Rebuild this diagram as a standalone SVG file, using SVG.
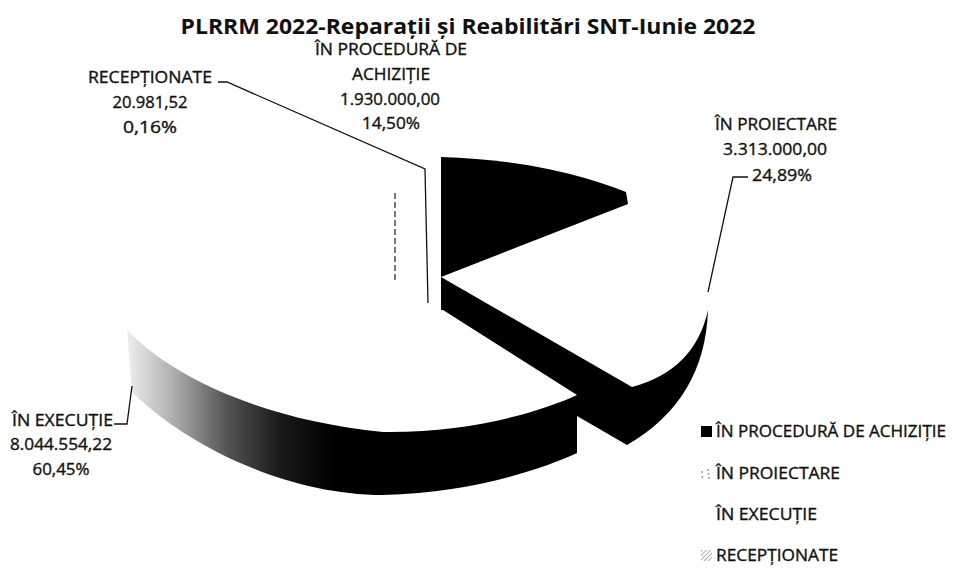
<svg xmlns="http://www.w3.org/2000/svg" width="958" height="574" viewBox="0 0 958 574">
  <style>
    .t { font-family: "Open Sans", "Noto Sans", "Liberation Sans", sans-serif; font-size: 16px; fill: #111; stroke: #111; stroke-width: 0.35; }
    .c { text-anchor: middle; }
    .title { font-family: "Open Sans", "Noto Sans", "Liberation Sans", sans-serif; font-size: 22px; font-weight: bold; fill: #111; text-anchor: middle; }
    .lead { fill: none; stroke: #111; stroke-width: 1.3; }
    .solid { fill: #000; }
  </style>
  <defs>
    <linearGradient id="execGrad" gradientUnits="userSpaceOnUse" x1="127" y1="0" x2="577" y2="0">
      <stop offset="0" stop-color="#eeeeee"/>
      <stop offset="0.1" stop-color="#b0b0b0"/>
      <stop offset="0.22" stop-color="#555"/>
      <stop offset="0.34" stop-color="#1a1a1a"/>
      <stop offset="0.46" stop-color="#000"/>
      <stop offset="1" stop-color="#000"/>
    </linearGradient>
    <pattern id="hatch" patternUnits="userSpaceOnUse" width="3" height="3" patternTransform="rotate(45)">
      <line x1="0" y1="0" x2="0" y2="3" stroke="#777" stroke-width="1.2"/>
    </pattern>
  </defs>
  <rect width="958" height="574" fill="#fff"/>

  <text id="title" class="title" x="468" y="34" textLength="575" lengthAdjust="spacingAndGlyphs">PLRRM 2022-Reparații și Reabilitări SNT-Iunie 2022</text>

  <g id="slice-executie">
    <path d="M127,330 C170,375 260,420 383,432 C470,433 540,412 577,395 L577,453 C540,470 470,493 383,495 C280,495 180,440 132,392 Z" fill="url(#execGrad)"/>
  </g>

  <g id="slice-proiectare">
    <path class="solid" d="M441,277 L632,387 Q695,370 708,310 Q705,400 627,445 L577,416 L577,395 L443,310 L441,310 Z"/>
  </g>

  <g id="slice-achizitie">
    <path class="solid" d="M441,157 Q545,160 626,192 L628,204 L441,277 Z"/>
  </g>

  <g id="slice-receptionate">
    <line x1="395" y1="193" x2="395" y2="280" stroke="#555" stroke-width="1.6" stroke-dasharray="6,3"/>
  </g>

  <g id="connectors">
    <path class="lead" d="M218,82 L227,82 L425,169 L428,303"/>
    <path class="lead" d="M748,177 L733,177 L708,292"/>
    <path class="lead" d="M114,424 L127,424 L132,386"/>
  </g>

  <g id="label-achizitie">
    <text class="t c" x="391" y="55" textLength="152" lengthAdjust="spacingAndGlyphs">ÎN PROCEDURĂ DE</text>
    <text class="t c" x="391" y="80" textLength="78" lengthAdjust="spacingAndGlyphs">ACHIZIȚIE</text>
    <text class="t c" x="390" y="105" textLength="100" lengthAdjust="spacingAndGlyphs">1.930.000,00</text>
    <text class="t c" x="391" y="129" textLength="58" lengthAdjust="spacingAndGlyphs">14,50%</text>
  </g>

  <g id="label-receptionate">
    <text class="t c" x="150" y="83" textLength="124" lengthAdjust="spacingAndGlyphs">RECEPȚIONATE</text>
    <text class="t c" x="150" y="108" textLength="75" lengthAdjust="spacingAndGlyphs">20.981,52</text>
    <text class="t c" x="150" y="133" textLength="54" lengthAdjust="spacingAndGlyphs">0,16%</text>
  </g>

  <g id="label-proiectare">
    <text class="t c" x="776" y="130" textLength="122" lengthAdjust="spacingAndGlyphs">ÎN PROIECTARE</text>
    <text class="t c" x="775" y="155" textLength="104" lengthAdjust="spacingAndGlyphs">3.313.000,00</text>
    <text class="t c" x="782" y="181" textLength="60" lengthAdjust="spacingAndGlyphs">24,89%</text>
  </g>

  <g id="label-executie">
    <text class="t" x="12" y="426" textLength="101" lengthAdjust="spacingAndGlyphs">ÎN EXECUȚIE</text>
    <text class="t c" x="61" y="450" textLength="102" lengthAdjust="spacingAndGlyphs">8.044.554,22</text>
    <text class="t c" x="61" y="475" textLength="57" lengthAdjust="spacingAndGlyphs">60,45%</text>
  </g>

  <g id="legend">
    <rect x="701" y="426" width="11" height="11" fill="#000"/>
    <text class="t" x="716" y="437" textLength="230" lengthAdjust="spacingAndGlyphs">ÎN PROCEDURĂ DE ACHIZIȚIE</text>
    <g fill="#888">
      <circle cx="702" cy="472" r="0.9"/>
      <circle cx="702.5" cy="477" r="0.9"/>
      <circle cx="708" cy="470" r="0.9"/>
      <circle cx="708.5" cy="474" r="0.9"/>
      <circle cx="709" cy="478" r="0.9"/>
    </g>
    <text class="t" x="716" y="479" textLength="124" lengthAdjust="spacingAndGlyphs">ÎN PROIECTARE</text>
    <text class="t" x="716" y="520" textLength="101" lengthAdjust="spacingAndGlyphs">ÎN EXECUȚIE</text>
    <rect x="701" y="550" width="11" height="11" fill="url(#hatch)"/>
    <text class="t" x="716" y="561" textLength="122" lengthAdjust="spacingAndGlyphs">RECEPȚIONATE</text>
  </g>
</svg>
